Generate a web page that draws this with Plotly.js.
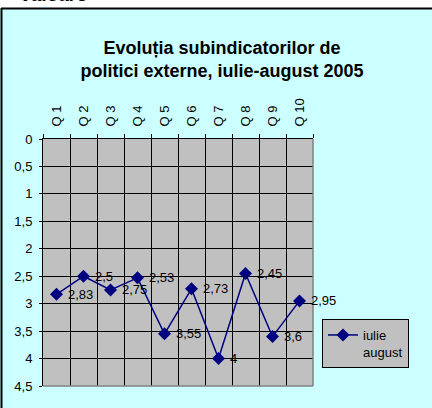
<!DOCTYPE html>
<html>
<head>
<meta charset="utf-8">
<script src="https://cdn.plot.ly/plotly-3.0.1.min.js"></script>
<style>html,body{margin:0;padding:0;background:#fff;}#chart{width:432px;height:408px;}</style>
</head>
<body>
<div id="chart"></div>
<script>
// Data
const categories = ["Q 1","Q 2","Q 3","Q 4","Q 5","Q 6","Q 7","Q 8","Q 9","Q 10"];
const values = [2.83, 2.5, 2.75, 2.53, 3.55, 2.73, 4, 2.45, 3.6, 2.95];
const valueLabels = ["2,83","2,5","2,75","2,53","3,55","2,73","4","2,45","3,6","2,95"];
const yTickVals = [0, 0.5, 1, 1.5, 2, 2.5, 3, 3.5, 4, 4.5];
const yTickText = ["0","0,5","1","1,5","2","2,5","3","3,5","4","4,5"];
const seriesName = "iulie<br>august";
const titleText = "<b>Evoluția subindicatorilor de<br>politici externe, iulie-august 2005</b>";
const cutText = "<b><i>valoare</i></b>";

const FONT = 'Arial, "Liberation Sans", sans-serif';
const W = 432, H = 408;
const L = 43, R = 119, T = 139, B = 22;
const pw = W - L - R, ph = H - T - B;
const px = x => (x - L) / pw;
const py = y => (H - B - y) / ph;

const trace = {
  x: categories,
  y: values,
  type: 'scatter',
  mode: 'lines+markers',
  name: seriesName,
  line: {color: '#000080', width: 1.5},
  marker: {symbol: 'diamond', size: 10, color: '#000080'},
  cliponaxis: false
};

const labelAnnotations = categories.map((c, i) => ({
  x: c, y: values[i], xref: 'x', yref: 'y',
  text: valueLabels[i], showarrow: false,
  xanchor: 'left', yanchor: 'middle', xshift: 10, yshift: 0,
  borderpad: 0,
  font: {family: FONT, size: 13, color: '#000'}
}));

const layout = {
  width: W, height: H,
  margin: {l: L, r: R, t: T, b: B, pad: 0},
  paper_bgcolor: '#CCFFFF',
  plot_bgcolor: '#C0C0C0',
  font: {family: FONT, size: 13, color: '#000'},
  title: {
    text: titleText,
    font: {family: FONT, size: 18, color: '#000'},
    x: 222 / W, xanchor: 'center', xref: 'container',
    y: 1 - 54 / H, yanchor: 'middle', yref: 'container'
  },
  showlegend: true,
  legend: {
    x: px(322), xanchor: 'left', y: py(319), yanchor: 'top',
    bgcolor: '#C0C0C0', bordercolor: '#000', borderwidth: 1,
    font: {family: FONT, size: 13, color: '#000'},
    valign: 'top'
  },
  xaxis: {
    type: 'category',
    side: 'top',
    range: [-0.5, 9.5],
    tickson: 'boundaries',
    ticks: 'outside', ticklen: 4, tickcolor: '#000', tickwidth: 1,
    tickangle: -90,
    tickfont: {family: FONT, size: 13, color: '#000'},
    showline: true, linecolor: '#000', linewidth: 1,
    showgrid: true, gridcolor: '#000', gridwidth: 1,
    zeroline: false, fixedrange: true,
    ticklabelstandoff: 9
  },
  yaxis: {
    range: [4.5, 0],
    tickvals: yTickVals, ticktext: yTickText,
    ticks: 'outside', ticklen: 3, tickcolor: '#000', tickwidth: 1,
    tickfont: {family: FONT, size: 13, color: '#000'},
    showline: true, linecolor: '#000', linewidth: 1,
    showgrid: true, gridcolor: '#000', gridwidth: 1,
    zeroline: false, fixedrange: true,
    ticklabelstandoff: 4
  },
  shapes: [
    {type: 'rect', xref: 'paper', yref: 'paper', layer: 'below',
     x0: px(-5), x1: px(W + 5), y0: py(8), y1: py(-5),
     fillcolor: '#FFFFFF', line: {width: 0}},
    {type: 'line', xref: 'paper', yref: 'paper', layer: 'below',
     x0: px(1), x1: px(W + 5), y0: py(8.5), y1: py(8.5),
     line: {color: '#000', width: 2}},
    {type: 'line', xref: 'paper', yref: 'paper', layer: 'below',
     x0: px(1.5), x1: px(1.5), y0: py(8), y1: py(H + 5),
     line: {color: '#000', width: 2}},
    {type: 'line', xref: 'paper', yref: 'paper', layer: 'above',
     x0: 1, x1: 1, y0: 0, y1: 1, line: {color: '#808080', width: 1.5}},
    {type: 'line', xref: 'paper', yref: 'paper', layer: 'above',
     x0: 0, x1: 1, y0: 0, y1: 0, line: {color: '#808080', width: 1.5}}
  ],
  annotations: labelAnnotations.concat([
    {text: cutText, xref: 'paper', yref: 'paper', showarrow: false,
     x: px(20), xanchor: 'left', y: py(6), yanchor: 'bottom',
     font: {family: FONT, size: 19, color: '#000'}, borderpad: 0}
  ])
};

Plotly.newPlot('chart', [trace], layout, {displayModeBar: false, staticPlot: true});
</script>
</body>
</html>
